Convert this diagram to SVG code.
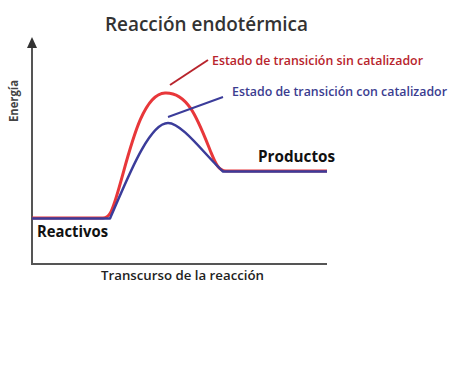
<svg xmlns="http://www.w3.org/2000/svg" width="474" height="387" viewBox="0 0 474 387">
<style>
.ax{stroke:#555;stroke-width:2;fill:none}
.red{stroke:#e8373a;stroke-width:3;fill:none;stroke-linejoin:round}
.blue{stroke:#3b3c9a;stroke-width:2.5;fill:none;stroke-linejoin:round}
.t{font-family:"Open Sans","Liberation Sans",sans-serif}
</style>
<rect width="474" height="387" fill="#fff"/>
<g id="title"><text class="t" x="105" y="31" font-size="19" font-weight="600" fill="#333" textLength="203" lengthAdjust="spacingAndGlyphs">Reacción endotérmica</text></g>
<g id="axes">
<line class="ax" x1="32" y1="264" x2="32" y2="46"/>
<path d="M27,48 L32,37 L37,48 Z" fill="#333"/>
<line class="ax" x1="31" y1="264" x2="327" y2="264"/>
</g>
<g id="ylabel"><text class="t" transform="translate(18,101) rotate(-90)" text-anchor="middle" font-size="13" font-weight="bold" fill="#444" textLength="42" lengthAdjust="spacingAndGlyphs">Energía</text></g>
<g id="xlabel"><text class="t" x="101" y="280" font-size="13" font-weight="600" fill="#222" textLength="163" lengthAdjust="spacingAndGlyphs">Transcurso de la reacción</text></g>
<g id="connectors">
<path class="red" d="M32,218 H103 C110,218 112,210 116,198 C128,160 140,94 165,93 C188,92 198,120 210,150 C215,162 218,171 226,171 H327"/>
<path class="blue" d="M32,218.5 H110 C125,185 148,123 168,123 C182,123 205,155 223,171.5 H327"/>
<line x1="170" y1="85" x2="208" y2="60" stroke="#b8242c" stroke-width="2"/>
<line x1="168" y1="117" x2="223" y2="97" stroke="#3b3c9a" stroke-width="2"/>
</g>
<g id="sin"><text class="t" x="212" y="65" font-size="12" font-weight="600" fill="#b8242c" textLength="211" lengthAdjust="spacingAndGlyphs">Estado de transición sin catalizador</text></g>
<g id="con"><text class="t" x="232" y="96" font-size="12" font-weight="600" fill="#3b3c8f" textLength="215" lengthAdjust="spacingAndGlyphs">Estado de transición con catalizador</text></g>
<g id="productos"><text class="t" x="258" y="162" font-size="16" font-weight="bold" fill="#111" textLength="77" lengthAdjust="spacingAndGlyphs">Productos</text></g>
<g id="reactivos"><text class="t" x="37" y="237" font-size="16" font-weight="bold" fill="#111" textLength="71" lengthAdjust="spacingAndGlyphs">Reactivos</text></g>
</svg>
